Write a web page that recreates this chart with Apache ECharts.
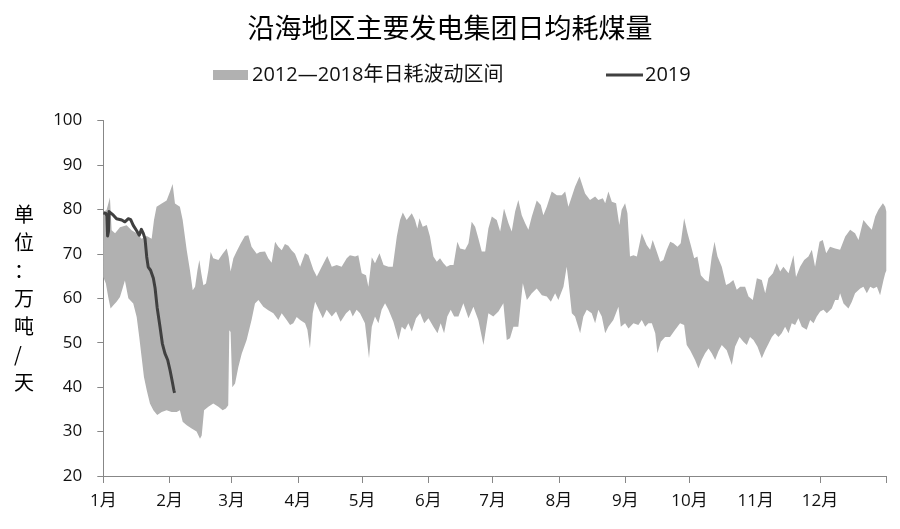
<!DOCTYPE html>
<html>
<head>
<meta charset="utf-8">
<script src="https://cdn.jsdelivr.net/npm/echarts@6/dist/echarts.min.js"></script>
<style>
html,body{margin:0;padding:0;background:#fff;}
#chart{width:900px;height:529px;}
</style>
</head>
<body>
<div id="chart"></div>
<script>
// ---- Data (day of year 0..366, value 万吨/天) ----
const titleText = '沿海地区主要发电集团日均耗煤量';
const bandName = '2012—2018年日耗波动区间';
const lineName = '2019';
const monthLabels = ['1月','2月','3月','4月','5月','6月','7月','8月','9月','10月','11月','12月'];
const monthStarts = [0,31,60,91,121,152,182,213,244,274,305,335];
const tickDays = [0,31,60,91,121,152,182,213,244,274,335,366];

const bandUpper = [
[0,79.5],[1.5,79.8],[3.1,82.7],[3.9,75.3],[5.5,74.6],[7.8,76],[10.9,76.4],[13.2,75.3],[15.6,74.6],[17.9,73.4],[20.3,74],[22.6,73.4],[23.7,77.6],[24.9,80.6],[27.3,81.3],[29.6,82],[31.2,84],[32.4,85.7],[33.5,81.3],[35.8,80.6],[37.1,77.6],[39,70.8],[40.5,66.3],[41.8,61.8],[42.9,62.6],[44,66.3],[44.9,68.6],[45.8,65.6],[46.8,62.9],[48,63.3],[49.1,66.3],[50.2,70.4],[51.4,69],[53.8,68.6],[55.8,70],[57.7,71.2],[58.6,69.3],[59.5,66],[60.8,69],[62.3,70.5],[64.2,72.3],[66.2,74],[67.8,74.2],[69.3,71.6],[71.7,70],[73.2,70.4],[75.6,70.5],[77.1,69],[78.7,68],[80.3,72.7],[81.8,71.6],[83.4,70.8],[84.9,72.2],[86.5,71.8],[88,70.8],[89.6,70],
[92,67.1],[94.3,70.1],[95.9,69.7],[98.2,66.4],[99.8,64.9],[102.1,67.1],[104.7,69.5],[106.8,67.1],[109.1,67.5],[111.4,67.1],[113.8,69],[115.3,69.7],[117.7,69.4],[119.2,69.7],[120.8,65.6],[122.8,65.2],[123.9,62.6],[125.5,69.2],[127,67.9],[129.1,70.1],[131,67.5],[133.3,67.1],[135.3,67.1],[137.2,73.9],[138.7,77.6],[140,79.3],[141.8,77.6],[144.2,79.1],[145.7,77.6],[146.8,75.7],[147.8,78],[149.3,76.1],[151.2,76.5],[152.7,73.9],[154.3,69.4],[155.9,68.2],[157.4,69],[159,67.9],[160.5,67.1],[162.1,67.5],[163.7,67.5],[165.5,72.7],[166.8,71.2],[169.1,70.9],[170.7,72.4],[172.2,77.2],[173.8,76.1],[175.3,73.5],[176.9,70.5],[178.5,70.5],[180,75.7],[181.6,78.4],[183.9,77.6],[185.5,75],[187.3,80.2],[189.4,76.9],[190.9,75],[192.5,79.5],[194,82.1],[195.6,78.7],[197.2,76.9],[198.7,75.4],[200.3,78.4],[202.6,82],[204.5,81],[205.7,78.7],[207.3,80.6],[209.6,84],[212,83.2],[214.3,83.2],[215.9,84],[217.4,80.6],[219,82.9],[220.5,85.1],[222.6,87.4],
[225.2,83.6],[227.5,82.1],[229.9,82.9],[231.4,82.1],[233.5,82.5],[234.6,81.4],[236.1,84],[237.7,81.7],[239.7,81.4],[241.2,76.5],[242.3,79.9],[243.9,81.4],[245,79.1],[246.2,69.4],[247.8,69.7],[249.4,69.4],[251.7,74.6],[254,72],[255.6,70.9],[256.8,73.1],[258.4,70.9],[260.3,68.2],[261.8,68.6],[263.4,70.9],[265,72.7],[266.5,72.4],[268.4,71.6],[269.9,72.4],[271.5,78],[273.1,74.6],[274.6,72],[276.2,69],[277.7,69.4],[279.3,65.2],[281.3,64.1],[282.9,63.7],[284.4,69.4],[285.7,72.7],[287.1,69.4],[289.1,67.1],[291.1,63],[292.7,63.4],[294.5,64.1],[296.1,61.9],[297.7,62.6],[300,62.6],[301.6,60.4],[303.6,59.6],[305.5,64.5],[307.8,64.1],[309.4,61.1],[310.9,64.5],[313,65.6],[314.8,67.9],[316.4,66],[317.9,67.1],[320.3,65.6],[322.6,69.7],[323.8,64.8],[325.7,67.1],[327.6,68.6],[329.6,69.4],[331.2,70.9],[332.7,67.1],[334.8,72.7],[336.3,73.1],[337.9,70.1],[339.7,71.6],[342.1,71.2],[344.4,70.9],[346.8,73.9],[349.1,75.4],[351.4,74.6],[353,73.1],[355.3,77.6],[357.2,76.5],[359.2,75.4],[360.8,78.4],[362.3,79.9],[364.4,81.4],[365.5,80.6],[366,79.5]
];

const bandLower = [
[0,64.8],[1.2,63.3],[2.3,60.3],[3.4,57.7],[4.7,58.4],[6.2,59.2],[7.8,60.3],[9,62.2],[10.1,64],[11.7,60],[14,58.8],[15.6,55.8],[16.8,51.3],[17.9,46.8],[19,42.3],[20.3,39.3],[21.8,36.3],[23.4,34.8],[25.2,33.7],[27.3,34.4],[29.6,34.8],[31.9,34.4],[34.3,34.4],[35.8,34.8],[37.1,32.2],[39,31.4],[41.3,30.7],[43.6,30],[45.2,28.4],[46,29.1],[47.1,34.8],[49.1,35.6],[51.4,36.3],[53.8,35.6],[55.8,34.8],[57.3,35.2],[58.4,35.9],[58.9,52.8],[59.5,52.4],[60.3,40],[61.6,40.8],[63.1,44.5],[64.7,47.5],[67,50.6],[69.3,55.1],[70.9,58.8],[72.5,59.6],[74.8,58.1],[77.1,57.3],[79.5,56.6],[81.8,55.1],[83.4,56.6],[85.7,55.1],[87.3,54],[88.8,54.4],[90.4,55.8],
[92,55.1],[94.3,54.4],[95.4,52.9],[96.6,48.7],[97.9,56.6],[99,59.2],[100.5,57.7],[102.6,55.5],[104.4,57.4],[106.8,55.9],[108.8,57],[110.9,54.7],[113.5,56.6],[115.3,57.4],[116.6,55.9],[118.4,57.4],[120,56.6],[122.3,54.4],[124.2,46.5],[125.5,53.6],[127,55.9],[128.6,54.4],[130.1,57.4],[131.7,58.9],[133.3,57.4],[135.6,54.7],[138,50.6],[139.5,53.6],[141.1,52.9],[142.6,54.4],[144.2,52.5],[146.2,55.5],[148.1,56.6],[150,54.4],[152,55.5],[154.3,53.6],[156.2,52.1],[157.7,54.4],[159.3,52.1],[160.8,55.9],[162.4,57.4],[164,55.9],[166,55.9],[168.3,58.9],[170.7,55.5],[173,58.1],[175.3,55.1],[177.7,49.5],[180,56.6],[182.3,55.9],[184.7,57],[187,58.9],[188.6,50.6],[190.1,51],[191.7,53.6],[194,53.6],[196.1,63.4],[198,59.6],[200.3,61.1],[202.6,62.2],[205,60.7],[207.3,60.4],[209.2,59.2],[211.2,61.1],[212.7,59.6],[215.1,62.6],[216.6,67.1],[217.4,64],[219,56.6],[220.5,55.9],[222.9,52.1],
[224.4,55.9],[226,57.4],[228.3,56.6],[229.9,54.4],[231.4,57.4],[233,55.9],[234.6,52.1],[236.1,53.6],[238.4,55.1],[240.8,58.1],[241.9,53.6],[243.9,54.4],[245.5,53.2],[247.8,54.4],[250.1,54],[251.7,55.1],[253.3,53.6],[254.8,54.4],[256.4,54.4],[258,52.1],[259,47.6],[260.6,50.2],[262.6,51.3],[264.9,51.3],[267.3,52.9],[269.6,54.4],[271.5,54],[272.7,49.5],[274.3,48.3],[276.6,46.1],[278.2,44.2],[279.7,46.1],[281.3,47.6],[282.9,48.7],[284.4,47.6],[286,46.1],[287.5,48],[289.1,49.5],[291.4,48.3],[293.8,45],[295.3,49.1],[297.4,51.3],[299.2,50.2],[300.8,49.5],[302.3,51.3],[303.9,50.6],[305.8,49.1],[307.8,46.5],[309.4,48.3],[311,49.8],[312.5,51.3],[314,52.1],[315.6,51.3],[317.1,52.1],[318.7,53.6],[320.3,52.1],[321.8,54.4],[323.4,54],[324.9,55.5],[326.5,53.6],[328.8,52.9],[330.4,55.1],[332,54.4],[333.5,55.9],[335.1,57],[336.6,57.4],[338.2,56.6],[340.5,57.7],[342.1,59.6],[343.6,59.6],[344.4,61.1],[346,58.8],[348.3,57.7],[349.9,59.2],[351.4,61.1],[353.8,62.2],[355.3,62.6],[356.9,61.1],[358.5,62.6],[360,62.2],[361.6,62.6],[363.1,60.7],[364.7,64.1],[365.5,65.6],[366,66.2]
];

const line2019 = [
[0,79.2],[1.2,79.1],[1.7,78.5],[2,74],[2.4,75],[2.7,79.5],[3.1,79.7],[4.7,78.7],[6.2,77.9],[8.6,77.6],[10.1,77.2],[11.7,77.9],[12.8,77.7],[14,76.4],[15.6,75.2],[16.8,74.2],[17.8,75.5],[18.7,74.6],[19.5,73.4],[20.3,69.3],[21,67],[22.1,66.3],[23.4,64.5],[24.2,62.3],[25.2,57.8],[26.5,53.6],[27.6,49.8],[28.8,47.6],[30.1,46.1],[31.2,43.8],[32.1,41.6],[33,39.3],[33.3,38.7]
];

const yTicks = {min: 20, max: 100, interval: 10};

// ---- Chart ----
const chart = echarts.init(document.getElementById('chart'), null, {renderer: 'canvas'});
const latin = '"Open Sans", "Noto Sans CJK SC", sans-serif';
const cjk = '"Noto Sans CJK SC", sans-serif';
const axisColor = '#878787';

const option = {
  animation: false,
  backgroundColor: '#ffffff',
  title: {
    text: titleText,
    left: 'center',
    top: 14,
    padding: 0,
    textStyle: {fontFamily: cjk, fontSize: 27, fontWeight: 'normal', color: '#000'}
  },
  legend: [
    {
      data: [{name: bandName, icon: 'rect'}],
      left: 213, top: 65, padding: 0,
      itemWidth: 35, itemHeight: 10, itemGap: 4,
      textStyle: {fontFamily: latin, fontSize: 20, color: '#111', padding: [0,0,0,-1]}
    },
    {
      data: [{name: lineName, icon: 'rect'}],
      left: 606, top: 65, padding: 0,
      itemWidth: 37, itemHeight: 3,
      itemStyle: {color: '#404040'},
      textStyle: {fontFamily: latin, fontSize: 20, color: '#111', padding: [0,0,0,-3]}
    }
  ],
  graphic: [{
    type: 'text',
    left: 14, top: 200,
    style: {
      text: '单\n位\n：\n万\n吨\n/\n天',
      font: '20px "Noto Sans CJK SC"',
      fill: '#000',
      lineHeight: 28,
      align: 'center'
    }
  }],
  grid: {left: 103.3, right: 13.7, top: 120.5, bottom: 53, containLabel: false},
  xAxis: {
    type: 'value',
    min: 0, max: 366,
    splitLine: {show: false},
    axisLine: {show: true, onZero: false, lineStyle: {color: axisColor, width: 1}},
    axisTick: {show: true, length: 7, customValues: tickDays, lineStyle: {color: axisColor}},
    axisLabel: {
      customValues: monthStarts,
      margin: 17,
      fontFamily: latin, fontSize: 17, color: '#111',
      formatter: function (v) {
        const i = monthStarts.indexOf(Math.round(v));
        return i >= 0 ? monthLabels[i] : '';
      }
    }
  },
  yAxis: {
    type: 'value',
    min: yTicks.min, max: yTicks.max, interval: yTicks.interval,
    splitLine: {show: false},
    axisLine: {show: true, lineStyle: {color: axisColor, width: 1}},
    axisTick: {show: true, length: 6, inside: false, lineStyle: {color: axisColor}},
    axisLabel: {margin: 21, fontFamily: latin, fontSize: 17, color: '#111'}
  },
  series: [
    {
      name: bandName,
      type: 'custom',
      data: bandUpper,
      encode: {x: 0, y: 1},
      itemStyle: {color: '#b1b1b1'},
      clip: true,
      silent: true,
      z: 1,
      renderItem: function (params, api) {
        if (params.dataIndex !== 0) return null;
        const pts = [];
        for (let i = 0; i < bandUpper.length; i++) pts.push(api.coord(bandUpper[i]));
        for (let i = bandLower.length - 1; i >= 0; i--) pts.push(api.coord(bandLower[i]));
        return {
          type: 'polygon',
          shape: {points: pts},
          style: {fill: '#b1b1b1', stroke: null}
        };
      }
    },
    {
      name: lineName,
      type: 'line',
      data: line2019,
      symbol: 'none',
      showSymbol: false,
      z: 3,
      itemStyle: {color: '#404040'},
      lineStyle: {color: '#404040', width: 3, join: 'round'}
    }
  ]
};
chart.setOption(option);
</script>
</body>
</html>
